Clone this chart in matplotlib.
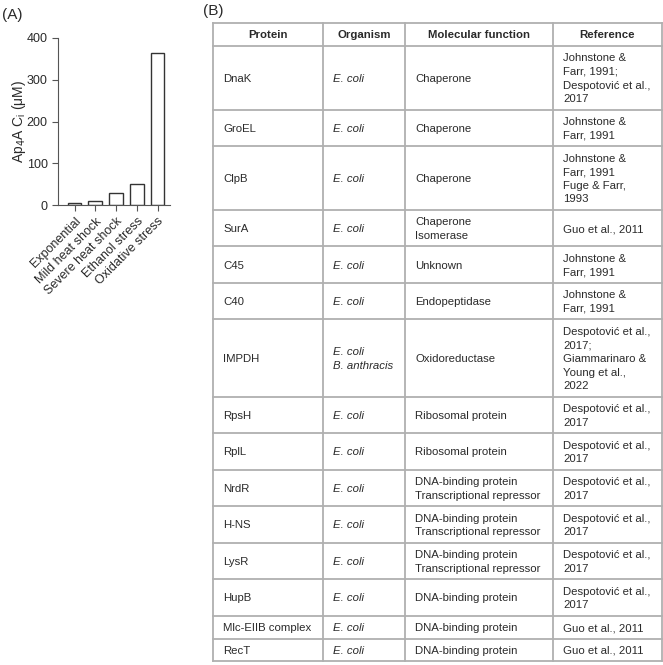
import matplotlib
matplotlib.use("Agg")
import matplotlib.pyplot as plt

plt.rcParams['font.family'] = ['Liberation Sans', 'DejaVu Sans']

# ---------------- data ----------------
conditions = ["Exponential", "Mild heat shock", "Severe heat shock",
              "Ethanol stress", "Oxidative stress"]
ap4a_values = [4, 9, 29, 50, 365]
y_ticks = [0, 100, 200, 300, 400]

headers = ["Protein", "Organism", "Molecular function", "Reference"]
proteins = ["DnaK", "GroEL", "ClpB", "SurA", "C45", "C40", "IMPDH", "RpsH",
            "RplL", "NrdR", "H-NS", "LysR", "HupB", "Mlc-EIIB complex", "RecT"]
organisms = ["E. coli", "E. coli", "E. coli", "E. coli", "E. coli", "E. coli",
             "E. coli\nB. anthracis", "E. coli", "E. coli", "E. coli", "E. coli",
             "E. coli", "E. coli", "E. coli", "E. coli"]
functions = ["Chaperone", "Chaperone", "Chaperone", "Chaperone\nIsomerase",
             "Unknown", "Endopeptidase", "Oxidoreductase", "Ribosomal protein",
             "Ribosomal protein",
             "DNA-binding protein\nTranscriptional repressor",
             "DNA-binding protein\nTranscriptional repressor",
             "DNA-binding protein\nTranscriptional repressor",
             "DNA-binding protein", "DNA-binding protein", "DNA-binding protein"]
references = ["Johnstone &\nFarr, 1991;\nDespotović et al.,\n2017",
              "Johnstone &\nFarr, 1991",
              "Johnstone &\nFarr, 1991\nFuge & Farr,\n1993",
              "Guo et al., 2011",
              "Johnstone &\nFarr, 1991",
              "Johnstone &\nFarr, 1991",
              "Despotović et al.,\n2017;\nGiammarinaro &\nYoung et al.,\n2022",
              "Despotović et al.,\n2017",
              "Despotović et al.,\n2017",
              "Despotović et al.,\n2017",
              "Despotović et al.,\n2017",
              "Despotović et al.,\n2017",
              "Despotović et al.,\n2017",
              "Guo et al., 2011",
              "Guo et al., 2011"]

W, H = 663, 665
fig = plt.figure(figsize=(W / 100, H / 100), dpi=100)

TXT = "#2a2a2a"

# ---------------- panel A ----------------
axA = fig.add_axes([58 / W, 1 - 205 / H, 112 / W, 167 / H])
xs = list(range(len(conditions)))
axA.bar(xs, ap4a_values, width=0.66, facecolor="white", edgecolor="#333333",
        linewidth=1.0)
axA.set_xlim(-0.8, 4.6)
axA.set_ylim(0, 400)
axA.set_yticks(y_ticks)
axA.set_xticks(xs)
axA.set_xticklabels(conditions, rotation=45, ha="right", rotation_mode="anchor",
                    fontsize=9, color=TXT)
axA.tick_params(axis="y", labelsize=9, colors="#555555", labelcolor=TXT,
                length=4, width=0.8)
axA.tick_params(axis="x", colors="#555555", labelcolor=TXT, length=4, width=0.8)
for s in ["top", "right"]:
    axA.spines[s].set_visible(False)
for s in ["left", "bottom"]:
    axA.spines[s].set_color("#555555")
    axA.spines[s].set_linewidth(0.8)
axA.set_ylabel("Ap$_4$A C$_\\mathregular{i}$ (μM)", fontsize=10, color=TXT)
axA.yaxis.set_label_coords(-0.27, 0.5)
fig.text(2 / W, 1 - 15 / H, "(A)", fontsize=11, color=TXT, va="center", ha="left")

# ---------------- panel B (table) ----------------
fig.text(203 / W, 1 - 11 / H, "(B)", fontsize=11, color=TXT, va="center", ha="left")
axT = fig.add_axes([0, 0, 1, 1])
axT.set_xlim(0, W)
axT.set_ylim(H, 0)
axT.axis("off")

col_edges = [213, 323, 405, 553, 662]
top = 23
lh = 13.6
pad = 9.3
line_col = "#b0b0b0"
fs = 8.2

rows = [headers] + [list(r) for r in zip(proteins, organisms, functions, references)]
n_lines = [max(c.count("\n") + 1 for c in r) for r in rows]
heights = [pad + n * lh for n in n_lines]

y = top
row_edges = [y]
for h in heights:
    y += h
    row_edges.append(y)

for ri, row in enumerate(rows):
    yc = (row_edges[ri] + row_edges[ri + 1]) / 2
    for ci, cell in enumerate(row):
        lines = cell.split("\n")
        n = len(lines)
        for li, ln in enumerate(lines):
            yy = yc + (li - (n - 1) / 2) * lh
            if ri == 0:
                axT.text((col_edges[ci] + col_edges[ci + 1]) / 2, yy, ln,
                         fontsize=fs, fontweight="bold", ha="center",
                         va="center_baseline", color=TXT)
            else:
                axT.text(col_edges[ci] + 10, yy, ln, fontsize=fs,
                         style="italic" if ci == 1 else "normal",
                         ha="left", va="center_baseline", color=TXT)

for ye in row_edges:
    axT.plot([col_edges[0], col_edges[-1]], [ye, ye], color=line_col, lw=1.3,
             solid_capstyle="projecting")
for xe in col_edges:
    axT.plot([xe, xe], [row_edges[0], row_edges[-1]], color=line_col, lw=1.3,
             solid_capstyle="projecting")

fig.savefig("out.png", dpi=100)
